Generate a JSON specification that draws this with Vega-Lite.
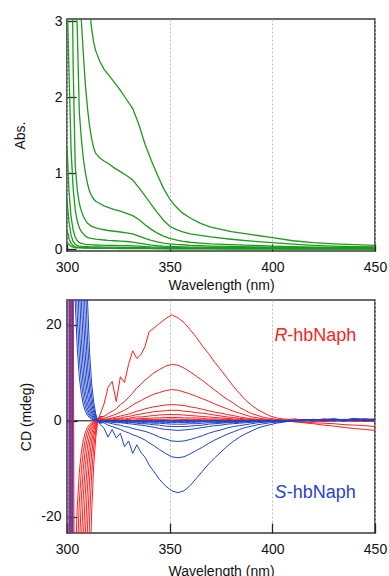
{
  "$schema": "https://vega.github.io/schema/vega-lite/v6.json",
  "background": "white",
  "padding": {"left": 12, "top": 13, "right": 5, "bottom": 0},
  "spacing": 6,
  "config": {
    "font": "Liberation Sans",
    "view": {"stroke": "#3a3a3a", "strokeWidth": 1.6},
    "axis": {"labelFont": "Liberation Sans", "titleFont": "Liberation Sans", "labelFontSize": 14, "titleFontSize": 14, "titleFontWeight": "normal", "labelColor": "#111", "titleColor": "#111", "tickColor": "#222", "tickWidth": 1.3, "domain": false}
  },
  "datasets": {
    "abs": [
      {"x":300,"g1":8,"g2":8,"g3":7,"g4":8,"g5":3.4,"g6":1.35,"g7":0.65,"g8":0.26,"g9":0.1},
      {"x":301,"g1":8,"g2":7.5,"g3":6,"g4":6.5,"g5":2.3,"g6":0.75,"g7":0.35,"g8":0.14,"g9":0.06},
      {"x":302,"g1":7.5,"g2":7,"g3":5,"g4":5,"g5":1.3,"g6":0.42,"g7":0.18,"g8":0.075,"g9":0.035},
      {"x":303,"g1":7,"g2":6,"g3":4.2,"g4":2.4,"g5":0.8,"g6":0.25,"g7":0.1,"g8":0.045,"g9":0.025},
      {"x":304,"g1":6.5,"g2":5,"g3":3.5,"g4":1.1,"g5":0.52,"g6":0.16,"g7":0.065,"g8":0.03,"g9":0.02},
      {"x":305,"g1":6,"g2":4.3,"g3":2.9,"g4":0.78,"g5":0.37,"g6":0.11,"g7":0.045,"g8":0.025,"g9":0.018},
      {"x":306,"g1":5.5,"g2":3.6,"g3":1.8,"g4":0.6,"g5":0.28,"g6":0.085,"g7":0.038,"g8":0.022,"g9":0.016},
      {"x":307,"g1":5,"g2":3.0,"g3":1.45,"g4":0.5,"g5":0.23,"g6":0.075,"g7":0.035,"g8":0.02,"g9":0.015},
      {"x":308,"g1":4.5,"g2":2.55,"g3":1.18,"g4":0.43,"g5":0.2,"g6":0.068,"g7":0.033,"g8":0.019,"g9":0.014},
      {"x":309,"g1":4.0,"g2":2.15,"g3":1.0,"g4":0.38,"g5":0.17,"g6":0.063,"g7":0.032,"g8":0.018,"g9":0.013},
      {"x":310,"g1":3.5,"g2":1.85,"g3":0.86,"g4":0.34,"g5":0.155,"g6":0.06,"g7":0.031,"g8":0.018,"g9":0.013},
      {"x":311,"g1":3.15,"g2":1.62,"g3":0.76,"g4":0.32,"g5":0.145,"g6":0.058,"g7":0.03,"g8":0.017,"g9":0.012},
      {"x":312,"g1":2.9,"g2":1.45,"g3":0.7,"g4":0.3,"g5":0.14,"g6":0.056,"g7":0.03,"g8":0.017,"g9":0.012},
      {"x":313,"g1":2.72,"g2":1.33,"g3":0.66,"g4":0.29,"g5":0.135,"g6":0.055,"g7":0.029,"g8":0.016,"g9":0.011},
      {"x":314,"g1":2.61,"g2":1.26,"g3":0.63,"g4":0.28,"g5":0.13,"g6":0.054,"g7":0.029,"g8":0.016,"g9":0.011},
      {"x":316,"g1":2.47,"g2":1.2,"g3":0.6,"g4":0.265,"g5":0.125,"g6":0.052,"g7":0.028,"g8":0.015,"g9":0.01},
      {"x":318,"g1":2.37,"g2":1.16,"g3":0.57,"g4":0.255,"g5":0.12,"g6":0.05,"g7":0.027,"g8":0.015,"g9":0.01},
      {"x":320,"g1":2.3,"g2":1.13,"g3":0.55,"g4":0.245,"g5":0.115,"g6":0.049,"g7":0.026,"g8":0.014,"g9":0.009},
      {"x":323,"g1":2.2,"g2":1.07,"g3":0.52,"g4":0.235,"g5":0.11,"g6":0.048,"g7":0.025,"g8":0.014,"g9":0.009},
      {"x":326,"g1":2.09,"g2":1.02,"g3":0.5,"g4":0.225,"g5":0.105,"g6":0.046,"g7":0.024,"g8":0.013,"g9":0.008},
      {"x":329,"g1":1.97,"g2":0.97,"g3":0.47,"g4":0.215,"g5":0.1,"g6":0.045,"g7":0.023,"g8":0.013,"g9":0.008},
      {"x":332,"g1":1.85,"g2":0.91,"g3":0.44,"g4":0.2,"g5":0.092,"g6":0.042,"g7":0.022,"g8":0.012,"g9":0.007},
      {"x":335,"g1":1.64,"g2":0.81,"g3":0.39,"g4":0.17,"g5":0.08,"g6":0.038,"g7":0.02,"g8":0.011,"g9":0.007},
      {"x":338,"g1":1.38,"g2":0.7,"g3":0.32,"g4":0.14,"g5":0.065,"g6":0.033,"g7":0.018,"g8":0.01,"g9":0.006},
      {"x":341,"g1":1.17,"g2":0.59,"g3":0.26,"g4":0.115,"g5":0.052,"g6":0.028,"g7":0.016,"g8":0.009,"g9":0.006},
      {"x":344,"g1":0.98,"g2":0.48,"g3":0.21,"g4":0.095,"g5":0.044,"g6":0.025,"g7":0.014,"g8":0.008,"g9":0.005},
      {"x":347,"g1":0.8,"g2":0.38,"g3":0.17,"g4":0.08,"g5":0.038,"g6":0.022,"g7":0.013,"g8":0.008,"g9":0.005},
      {"x":350,"g1":0.66,"g2":0.3,"g3":0.14,"g4":0.07,"g5":0.034,"g6":0.02,"g7":0.012,"g8":0.007,"g9":0.004},
      {"x":353,"g1":0.56,"g2":0.26,"g3":0.12,"g4":0.062,"g5":0.031,"g6":0.019,"g7":0.011,"g8":0.007,"g9":0.004},
      {"x":356,"g1":0.48,"g2":0.23,"g3":0.105,"g4":0.057,"g5":0.029,"g6":0.018,"g7":0.011,"g8":0.006,"g9":0.004},
      {"x":360,"g1":0.41,"g2":0.2,"g3":0.09,"g4":0.05,"g5":0.027,"g6":0.017,"g7":0.01,"g8":0.006,"g9":0.003},
      {"x":365,"g1":0.34,"g2":0.18,"g3":0.08,"g4":0.045,"g5":0.025,"g6":0.016,"g7":0.009,"g8":0.005,"g9":0.003},
      {"x":370,"g1":0.29,"g2":0.16,"g3":0.07,"g4":0.04,"g5":0.023,"g6":0.015,"g7":0.009,"g8":0.005,"g9":0.003},
      {"x":380,"g1":0.23,"g2":0.13,"g3":0.06,"g4":0.035,"g5":0.02,"g6":0.013,"g7":0.008,"g8":0.004,"g9":0.002},
      {"x":390,"g1":0.19,"g2":0.105,"g3":0.05,"g4":0.03,"g5":0.018,"g6":0.012,"g7":0.007,"g8":0.004,"g9":0.002},
      {"x":400,"g1":0.15,"g2":0.085,"g3":0.04,"g4":0.026,"g5":0.016,"g6":0.011,"g7":0.007,"g8":0.004,"g9":0.002},
      {"x":410,"g1":0.11,"g2":0.065,"g3":0.033,"g4":0.022,"g5":0.014,"g6":0.01,"g7":0.006,"g8":0.003,"g9":0.001},
      {"x":420,"g1":0.085,"g2":0.05,"g3":0.027,"g4":0.02,"g5":0.012,"g6":0.009,"g7":0.006,"g8":0.003,"g9":0.001},
      {"x":430,"g1":0.07,"g2":0.04,"g3":0.023,"g4":0.017,"g5":0.011,"g6":0.008,"g7":0.005,"g8":0.003,"g9":0.001},
      {"x":440,"g1":0.058,"g2":0.033,"g3":0.02,"g4":0.015,"g5":0.01,"g6":0.008,"g7":0.005,"g8":0.003,"g9":0.001},
      {"x":450,"g1":0.05,"g2":0.028,"g3":0.018,"g4":0.014,"g5":0.01,"g6":0.007,"g7":0.005,"g8":0.003,"g9":0.001}
    ],
    "cd": [
      {"x":300,"r1":-999,"r2":-999,"r3":-999,"r4":-999,"r5":-999,"r6":-999,"r7":-999,"r8":-999,"r9":-999,"s1":999,"s2":999,"s3":999,"s4":999,"s5":999,"s6":999,"s7":999,"s8":-40,"s9":999},
      {"x":301,"r1":-999,"r2":40,"r3":-999,"r4":-999,"r5":-999,"r6":-999,"r7":-999,"r8":-999,"r9":-999,"s1":999,"s2":999,"s3":999,"s4":999,"s5":999,"s6":999,"s7":999,"s8":999,"s9":999},
      {"x":301.5,"r1":-999,"r2":-999,"r3":-999,"r4":-999,"r5":-999,"r6":-999,"r7":-999,"r8":-999,"r9":-999,"s1":999,"s2":-40,"s3":999,"s4":999,"s5":999,"s6":999,"s7":999,"s8":999,"s9":999},
      {"x":302,"r1":-999,"r2":-999,"r3":-999,"r4":40,"r5":-999,"r6":-999,"r7":-999,"r8":-999,"r9":-999,"s1":999,"s2":999,"s3":999,"s4":999,"s5":999,"s6":999,"s7":999,"s8":999,"s9":999},
      {"x":302.5,"r1":-999,"r2":-999,"r3":-999,"r4":-999,"r5":-999,"r6":-999,"r7":-999,"r8":-999,"r9":-999,"s1":999,"s2":999,"s3":999,"s4":999,"s5":-40,"s6":999,"s7":999,"s8":999,"s9":999},
      {"x":303,"r1":-999,"r2":-999,"r3":-999,"r4":-999,"r5":-999,"r6":40,"r7":-999,"r8":-999,"r9":-999,"s1":899,"s2":601,"s3":405,"s4":275,"s5":187,"s6":128,"s7":87.7,"s8":60.1,"s9":41.2},
      {"x":304,"r1":-1331,"r2":-782,"r3":-475,"r4":-294,"r5":-184,"r6":-116,"r7":-73.3,"r8":-46.5,"r9":-29.6,"s1":545,"s2":364,"s3":246,"s4":167,"s5":114,"s6":77.7,"s7":53.2,"s8":36.4,"s9":25.0},
      {"x":305,"r1":-805,"r2":-473,"r3":-287,"r4":-178,"r5":-111,"r6":-70,"r7":-44.3,"r8":-28.1,"r9":-17.9,"s1":330,"s2":220,"s3":149,"s4":101,"s5":68.7,"s6":47.0,"s7":32.2,"s8":22.0,"s9":15.1},
      {"x":306,"r1":-486,"r2":-286,"r3":-173,"r4":-107,"r5":-67.1,"r6":-42.3,"r7":-26.8,"r8":-17.0,"r9":-10.8,"s1":199,"s2":133,"s3":89.7,"s4":61.0,"s5":41.5,"s6":28.4,"s7":19.4,"s8":13.3,"s9":9.13},
      {"x":307,"r1":-293,"r2":-172,"r3":-104,"r4":-64.6,"r5":-40.4,"r6":-25.5,"r7":-16.1,"r8":-10.2,"r9":-6.5,"s1":120,"s2":80.1,"s3":54.0,"s4":36.7,"s5":25.0,"s6":17.1,"s7":11.7,"s8":8.01,"s9":5.5},
      {"x":308,"r1":-175,"r2":-103,"r3":-62.5,"r4":-38.7,"r5":-24.2,"r6":-15.3,"r7":-9.65,"r8":-6.13,"r9":-3.89,"s1":71.8,"s2":48.0,"s3":32.4,"s4":22.0,"s5":15.0,"s6":10.2,"s7":7.0,"s8":4.8,"s9":3.29},
      {"x":309,"r1":-104,"r2":-61.3,"r3":-37.2,"r4":-23.0,"r5":-14.4,"r6":-9.08,"r7":-5.74,"r8":-3.65,"r9":-2.32,"s1":42.7,"s2":28.5,"s3":19.3,"s4":13.1,"s5":8.91,"s6":6.09,"s7":4.17,"s8":2.86,"s9":1.96},
      {"x":310,"r1":-61.1,"r2":-35.9,"r3":-21.8,"r4":-13.5,"r5":-8.43,"r6":-5.31,"r7":-3.36,"r8":-2.13,"r9":-1.36,"s1":25.0,"s2":16.7,"s3":11.3,"s4":7.66,"s5":5.21,"s6":3.57,"s7":2.44,"s8":1.67,"s9":1.15},
      {"x":311,"r1":-34.9,"r2":-20.5,"r3":-12.4,"r4":-7.7,"r5":-4.82,"r6":-3.04,"r7":-1.92,"r8":-1.22,"r9":-0.78,"s1":14.3,"s2":9.55,"s3":6.44,"s4":4.38,"s5":2.98,"s6":2.04,"s7":1.39,"s8":0.96,"s9":0.66},
      {"x":312,"r1":-19.0,"r2":-11.2,"r3":-6.78,"r4":-4.19,"r5":-2.62,"r6":-1.65,"r7":-1.05,"r8":-0.66,"r9":-0.42,"s1":7.78,"s2":5.2,"s3":3.51,"s4":2.38,"s5":1.62,"s6":1.11,"s7":0.76,"s8":0.52,"s9":0.36},
      {"x":313,"r1":-9.39,"r2":-5.51,"r3":-3.35,"r4":-2.07,"r5":-1.3,"r6":-0.82,"r7":-0.52,"r8":-0.33,"r9":-0.21,"s1":3.84,"s2":2.57,"s3":1.73,"s4":1.18,"s5":0.8,"s6":0.55,"s7":0.37,"s8":0.26,"s9":0.18},
      {"x":314,"r1":-3.55,"r2":-2.08,"r3":-1.26,"r4":-0.78,"r5":-0.49,"r6":-0.31,"r7":-0.2,"r8":-0.12,"r9":-0.08,"s1":1.45,"s2":0.97,"s3":0.65,"s4":0.44,"s5":0.3,"s6":0.21,"s7":0.14,"s8":0.1,"s9":0.07},
      {"x":315,"r1":0.1,"r2":-0.1,"r3":0.2,"r4":0.0,"r5":0.1,"r6":-0.1,"r7":0.0,"r8":0.1,"r9":0.0,"s1":0.1,"s2":-0.1,"s3":0.0,"s4":0.1,"s5":-0.1,"s6":0.0,"s7":0.1,"s8":0.0,"s9":-0.1},
      {"x":316,"r1":1.2,"r2":0.9,"r3":0.7,"r4":0.5,"r5":0.4,"r6":0.3,"r7":0.2,"r8":0.2,"r9":0.1,"s1":-0.7,"s2":-0.5,"s3":-0.4,"s4":-0.3,"s5":-0.2,"s6":-0.2,"s7":-0.1,"s8":-0.1,"s9":0.0},
      {"x":318,"r1":3.5,"r2":0.9,"r3":0.5,"r4":0.3,"r5":0.2,"r6":0.1,"r7":0.1,"r8":0.0,"r9":-0.1,"s1":-1.5,"s2":-0.4,"s3":-0.2,"s4":-0.1,"s5":-0.1,"s6":0.0,"s7":0.0,"s8":0.0,"s9":0.1},
      {"x":320,"r1":7.0,"r2":1.5,"r3":0.8,"r4":0.4,"r5":0.3,"r6":0.2,"r7":0.1,"r8":0.1,"r9":0.0,"s1":-3.4,"s2":-0.9,"s3":-0.4,"s4":-0.2,"s5":-0.1,"s6":-0.1,"s7":0.0,"s8":0.0,"s9":0.0},
      {"x":322,"r1":8.2,"r2":2.0,"r3":1.1,"r4":0.6,"r5":0.4,"r6":0.2,"r7":0.1,"r8":0.0,"r9":-0.1,"s1":-1.8,"s2":-1.2,"s3":-0.6,"s4":-0.3,"s5":-0.2,"s6":-0.1,"s7":-0.1,"s8":0.0,"s9":0.1},
      {"x":324,"r1":4.0,"r2":2.5,"r3":1.4,"r4":0.8,"r5":0.5,"r6":0.3,"r7":0.2,"r8":0.1,"r9":0.0,"s1":-3.6,"s2":-1.5,"s3":-0.8,"s4":-0.4,"s5":-0.2,"s6":-0.1,"s7":0.0,"s8":-0.1,"s9":0.0},
      {"x":326,"r1":9.2,"r2":3.4,"r3":1.8,"r4":1.0,"r5":0.6,"r6":0.4,"r7":0.2,"r8":0.1,"r9":0.1,"s1":-2.6,"s2":-1.8,"s3":-0.9,"s4":-0.4,"s5":-0.3,"s6":-0.2,"s7":-0.1,"s8":0.0,"s9":0.0},
      {"x":328,"r1":8.0,"r2":4.0,"r3":2.2,"r4":1.2,"r5":0.8,"r6":0.4,"r7":0.2,"r8":0.1,"r9":0.0,"s1":-5.4,"s2":-2.2,"s3":-1.2,"s4":-0.5,"s5":-0.3,"s6":-0.2,"s7":-0.1,"s8":-0.1,"s9":0.1},
      {"x":330,"r1":11.8,"r2":4.9,"r3":2.7,"r4":1.4,"r5":0.9,"r6":0.5,"r7":0.3,"r8":0.2,"r9":0.0,"s1":-4.2,"s2":-2.5,"s3":-1.3,"s4":-0.6,"s5":-0.4,"s6":-0.2,"s7":-0.1,"s8":0.0,"s9":0.0},
      {"x":332,"r1":14.6,"r2":5.8,"r3":3.3,"r4":1.7,"r5":1.1,"r6":0.7,"r7":0.4,"r8":0.1,"r9":0.1,"s1":-6.8,"s2":-2.9,"s3":-1.6,"s4":-0.7,"s5":-0.4,"s6":-0.3,"s7":-0.2,"s8":-0.1,"s9":0.0},
      {"x":334,"r1":13.0,"r2":6.9,"r3":3.8,"r4":2.0,"r5":1.3,"r6":0.8,"r7":0.4,"r8":0.2,"r9":0.0,"s1":-5.0,"s2":-3.2,"s3":-1.8,"s4":-0.8,"s5":-0.5,"s6":-0.3,"s7":-0.1,"s8":-0.1,"s9":0.1},
      {"x":336,"r1":13.8,"r2":7.6,"r3":4.2,"r4":2.2,"r5":1.4,"r6":0.8,"r7":0.5,"r8":0.2,"r9":0.1,"s1":-6.6,"s2":-3.6,"s3":-2.0,"s4":-0.9,"s5":-0.6,"s6":-0.3,"s7":-0.2,"s8":0.0,"s9":0.0},
      {"x":338,"r1":15.5,"r2":8.5,"r3":4.7,"r4":2.5,"r5":1.6,"r6":0.9,"r7":0.5,"r8":0.3,"r9":0.0,"s1":-7.6,"s2":-4.0,"s3":-2.2,"s4":-1.0,"s5":-0.6,"s6":-0.4,"s7":-0.2,"s8":-0.1,"s9":0.0},
      {"x":340,"r1":18.6,"r2":9.2,"r3":5.1,"r4":2.7,"r5":1.7,"r6":1.0,"r7":0.5,"r8":0.2,"r9":0.1,"s1":-9.2,"s2":-4.6,"s3":-2.5,"s4":-1.2,"s5":-0.7,"s6":-0.4,"s7":-0.2,"s8":-0.1,"s9":0.1},
      {"x":342,"r1":19.2,"r2":9.9,"r3":5.5,"r4":2.9,"r5":1.9,"r6":1.1,"r7":0.6,"r8":0.3,"r9":0.1,"s1":-10.4,"s2":-5.1,"s3":-2.8,"s4":-1.3,"s5":-0.8,"s6":-0.5,"s7":-0.3,"s8":-0.2,"s9":0.0},
      {"x":345,"r1":20.3,"r2":10.7,"r3":5.9,"r4":3.1,"r5":2.0,"r6":1.2,"r7":0.6,"r8":0.3,"r9":0.0,"s1":-12.2,"s2":-6.0,"s3":-3.4,"s4":-1.6,"s5":-0.9,"s6":-0.5,"s7":-0.3,"s8":-0.1,"s9":0.0},
      {"x":348,"r1":21.3,"r2":11.4,"r3":6.3,"r4":3.3,"r5":2.1,"r6":1.3,"r7":0.7,"r8":0.3,"r9":0.1,"s1":-13.6,"s2":-6.8,"s3":-3.8,"s4":-1.8,"s5":-1.1,"s6":-0.6,"s7":-0.3,"s8":-0.2,"s9":0.1},
      {"x":351,"r1":22.1,"r2":11.8,"r3":6.5,"r4":3.4,"r5":2.2,"r6":1.3,"r7":0.7,"r8":0.4,"r9":0.1,"s1":-14.6,"s2":-7.5,"s3":-4.2,"s4":-1.9,"s5":-1.2,"s6":-0.7,"s7":-0.4,"s8":-0.2,"s9":0.0},
      {"x":354,"r1":21.5,"r2":11.6,"r3":6.4,"r4":3.3,"r5":2.2,"r6":1.3,"r7":0.7,"r8":0.3,"r9":0.0,"s1":-15.0,"s2":-7.7,"s3":-4.3,"s4":-2.0,"s5":-1.2,"s6":-0.7,"s7":-0.3,"s8":-0.1,"s9":0.0},
      {"x":357,"r1":20.5,"r2":11.0,"r3":6.0,"r4":3.2,"r5":2.0,"r6":1.2,"r7":0.6,"r8":0.3,"r9":0.1,"s1":-14.6,"s2":-7.5,"s3":-4.2,"s4":-1.9,"s5":-1.2,"s6":-0.7,"s7":-0.4,"s8":-0.2,"s9":0.1},
      {"x":360,"r1":19.0,"r2":10.2,"r3":5.6,"r4":2.9,"r5":1.9,"r6":1.1,"r7":0.6,"r8":0.3,"r9":0.0,"s1":-13.5,"s2":-6.9,"s3":-3.9,"s4":-1.8,"s5":-1.1,"s6":-0.6,"s7":-0.3,"s8":-0.1,"s9":0.0},
      {"x":363,"r1":17.4,"r2":9.3,"r3":5.1,"r4":2.7,"r5":1.7,"r6":1.0,"r7":0.6,"r8":0.3,"r9":0.1,"s1":-12.0,"s2":-6.2,"s3":-3.5,"s4":-1.6,"s5":-1.0,"s6":-0.6,"s7":-0.3,"s8":-0.2,"s9":0.0},
      {"x":366,"r1":15.6,"r2":8.4,"r3":4.6,"r4":2.4,"r5":1.6,"r6":0.9,"r7":0.5,"r8":0.2,"r9":0.0,"s1":-10.5,"s2":-5.5,"s3":-3.1,"s4":-1.4,"s5":-0.9,"s6":-0.5,"s7":-0.2,"s8":-0.1,"s9":0.1},
      {"x":369,"r1":14.0,"r2":7.4,"r3":4.1,"r4":2.1,"r5":1.4,"r6":0.8,"r7":0.4,"r8":0.2,"r9":0.1,"s1":-9.0,"s2":-4.7,"s3":-2.6,"s4":-1.2,"s5":-0.7,"s6":-0.4,"s7":-0.2,"s8":-0.1,"s9":0.0},
      {"x":372,"r1":12.2,"r2":6.4,"r3":3.5,"r4":1.8,"r5":1.2,"r6":0.7,"r7":0.4,"r8":0.2,"r9":0.0,"s1":-7.7,"s2":-4.0,"s3":-2.2,"s4":-1.0,"s5":-0.6,"s6":-0.4,"s7":-0.2,"s8":0.0,"s9":0.1},
      {"x":375,"r1":10.6,"r2":5.4,"r3":3.0,"r4":1.6,"r5":1.0,"r6":0.6,"r7":0.3,"r8":0.1,"r9":0.0,"s1":-6.5,"s2":-3.4,"s3":-1.9,"s4":-0.9,"s5":-0.5,"s6":-0.3,"s7":-0.1,"s8":-0.1,"s9":0.0},
      {"x":378,"r1":8.9,"r2":4.5,"r3":2.5,"r4":1.3,"r5":0.8,"r6":0.5,"r7":0.3,"r8":0.2,"r9":0.1,"s1":-5.3,"s2":-2.8,"s3":-1.5,"s4":-0.7,"s5":-0.4,"s6":-0.3,"s7":-0.2,"s8":0.0,"s9":0.0},
      {"x":381,"r1":7.2,"r2":3.7,"r3":2.0,"r4":1.1,"r5":0.7,"r6":0.4,"r7":0.2,"r8":0.1,"r9":0.0,"s1":-4.3,"s2":-2.3,"s3":-1.2,"s4":-0.6,"s5":-0.4,"s6":-0.2,"s7":-0.1,"s8":-0.1,"s9":0.1},
      {"x":384,"r1":5.7,"r2":2.8,"r3":1.6,"r4":0.8,"r5":0.5,"r6":0.3,"r7":0.2,"r8":0.1,"r9":0.0,"s1":-3.4,"s2":-1.8,"s3":-1.0,"s4":-0.5,"s5":-0.3,"s6":-0.2,"s7":-0.1,"s8":0.0,"s9":0.0},
      {"x":387,"r1":4.3,"r2":2.1,"r3":1.2,"r4":0.6,"r5":0.4,"r6":0.2,"r7":0.1,"r8":0.0,"r9":0.1,"s1":-2.7,"s2":-1.4,"s3":-0.8,"s4":-0.4,"s5":-0.2,"s6":-0.1,"s7":0.0,"s8":0.0,"s9":0.1},
      {"x":390,"r1":3.2,"r2":1.5,"r3":0.8,"r4":0.4,"r5":0.3,"r6":0.2,"r7":0.1,"r8":0.1,"r9":0.0,"s1":-2.1,"s2":-1.1,"s3":-0.6,"s4":-0.3,"s5":-0.2,"s6":-0.1,"s7":-0.1,"s8":0.1,"s9":0.0},
      {"x":393,"r1":2.3,"r2":1.1,"r3":0.6,"r4":0.3,"r5":0.2,"r6":0.1,"r7":0.1,"r8":0.0,"r9":-0.1,"s1":-1.5,"s2":-0.8,"s3":-0.4,"s4":-0.2,"s5":-0.1,"s6":-0.1,"s7":0.0,"s8":0.0,"s9":0.1},
      {"x":396,"r1":1.6,"r2":0.7,"r3":0.4,"r4":0.2,"r5":0.1,"r6":0.1,"r7":0.0,"r8":0.1,"r9":0.0,"s1":-1.1,"s2":-0.6,"s3":-0.3,"s4":-0.2,"s5":-0.1,"s6":0.0,"s7":0.0,"s8":0.0,"s9":0.0},
      {"x":399,"r1":1.0,"r2":0.5,"r3":0.2,"r4":0.2,"r5":0.1,"r6":0.0,"r7":0.1,"r8":0.0,"r9":0.0,"s1":-0.8,"s2":-0.4,"s3":-0.2,"s4":-0.1,"s5":0.0,"s6":0.0,"s7":0.1,"s8":0.1,"s9":0.0},
      {"x":402,"r1":0.6,"r2":0.3,"r3":0.1,"r4":0.1,"r5":0.0,"r6":0.1,"r7":0.0,"r8":0.1,"r9":0.1,"s1":-0.5,"s2":-0.3,"s3":-0.1,"s4":-0.1,"s5":-0.1,"s6":0.0,"s7":0.0,"s8":0.0,"s9":0.1},
      {"x":405,"r1":0.4,"r2":0.2,"r3":0.0,"r4":0.1,"r5":0.0,"r6":0.0,"r7":0.1,"r8":0.0,"r9":-0.1,"s1":-0.3,"s2":-0.2,"s3":-0.1,"s4":0.0,"s5":0.0,"s6":0.1,"s7":0.0,"s8":0.1,"s9":0.0},
      {"x":408,"r1":0.3,"r2":0.2,"r3":-0.1,"r4":0.0,"r5":-0.1,"r6":0.1,"r7":0.0,"r8":0.1,"r9":0.0,"s1":-0.1,"s2":-0.1,"s3":0.0,"s4":0.0,"s5":0.1,"s6":0.0,"s7":0.1,"s8":0.0,"s9":0.1},
      {"x":411,"r1":0.4,"r2":0.1,"r3":-0.2,"r4":0.1,"r5":-0.2,"r6":0.2,"r7":0.1,"r8":0.0,"r9":0.1,"s1":0.0,"s2":0.0,"s3":0.1,"s4":0.1,"s5":0.0,"s6":0.1,"s7":0.0,"s8":0.1,"s9":0.0},
      {"x":415,"r1":0.1,"r2":0.2,"r3":-0.4,"r4":0.3,"r5":-0.3,"r6":0.1,"r7":0.0,"r8":0.1,"r9":0.0,"s1":0.2,"s2":0.1,"s3":0.0,"s4":0.2,"s5":0.1,"s6":0.0,"s7":0.1,"s8":0.0,"s9":0.1},
      {"x":420,"r1":0.3,"r2":0.0,"r3":-0.6,"r4":0.1,"r5":-0.4,"r6":0.3,"r7":0.2,"r8":-0.1,"r9":0.1,"s1":0.1,"s2":0.3,"s3":0.2,"s4":0.0,"s5":0.2,"s6":0.1,"s7":0.0,"s8":0.2,"s9":0.0},
      {"x":425,"r1":-0.2,"r2":0.3,"r3":-0.9,"r4":0.4,"r5":-0.5,"r6":0.1,"r7":0.0,"r8":0.1,"r9":-0.1,"s1":0.3,"s2":0.2,"s3":0.1,"s4":0.3,"s5":0.0,"s6":0.2,"s7":0.2,"s8":0.1,"s9":0.1},
      {"x":430,"r1":0.2,"r2":0.1,"r3":-1.1,"r4":0.2,"r5":-0.6,"r6":0.2,"r7":0.1,"r8":0.0,"r9":0.0,"s1":0.4,"s2":0.4,"s3":0.3,"s4":0.1,"s5":0.2,"s6":0.0,"s7":0.1,"s8":0.0,"s9":0.2},
      {"x":435,"r1":-0.1,"r2":0.2,"r3":-1.4,"r4":0.3,"r5":-0.8,"r6":0.0,"r7":-0.1,"r8":0.1,"r9":0.2,"s1":0.2,"s2":0.1,"s3":0.2,"s4":0.3,"s5":0.1,"s6":0.2,"s7":0.0,"s8":0.1,"s9":0.0},
      {"x":440,"r1":0.3,"r2":-0.1,"r3":-1.6,"r4":0.1,"r5":-0.9,"r6":0.3,"r7":0.1,"r8":-0.1,"r9":0.0,"s1":0.5,"s2":0.3,"s3":0.4,"s4":0.2,"s5":0.3,"s6":0.1,"s7":0.2,"s8":0.2,"s9":0.1},
      {"x":445,"r1":0.0,"r2":0.2,"r3":-1.8,"r4":0.4,"r5":-1.0,"r6":0.1,"r7":-0.1,"r8":0.0,"r9":0.1,"s1":0.3,"s2":0.2,"s3":0.2,"s4":0.4,"s5":0.0,"s6":0.2,"s7":0.1,"s8":0.0,"s9":0.2},
      {"x":450,"r1":0.2,"r2":0.0,"r3":-2.0,"r4":0.2,"r5":-1.2,"r6":0.2,"r7":0.0,"r8":-0.1,"r9":-0.1,"s1":0.4,"s2":0.1,"s3":0.3,"s4":0.1,"s5":0.2,"s6":0.0,"s7":0.3,"s8":0.1,"s9":0.0}
    ],
    "annItalic": [
      {"t": "R", "x": 401, "y": 16.7, "k": "r1"},
      {"t": "S", "x": 401, "y": -16.2, "k": "s1"}
    ],
    "annPlain": [
      {"t": "-hbNaph", "x": 407.3, "y": 16.7, "k": "r1"},
      {"t": "-hbNaph", "x": 407.0, "y": -16.2, "k": "s1"}
    ],
    "zero": [{"y": 0}]
  },
  "vconcat": [
    {
      "width": 308,
      "height": 232,
      "data": {"name": "abs"},
      "transform": [{"fold": ["g1","g2","g3","g4","g5","g6","g7","g8","g9"], "as": ["k","v"]}],
      "mark": {"type": "line", "clip": true, "strokeWidth": 1.3, "color": "#1e9a1e"},
      "encoding": {
        "x": {"field": "x", "type": "quantitative",
              "scale": {"domain": [300, 450], "nice": false, "zero": false},
              "axis": {"title": "Wavelength (nm)", "values": [300,350,400,450], "labelFlush": false, "grid": true, "gridDash": [2,2], "gridColor": "#bdbdbd", "gridWidth": 1, "tickSize": -7, "labelPadding": 16, "titlePadding": 4}},
        "y": {"field": "v", "type": "quantitative",
              "scale": {"domain": [-0.025, 3.03], "nice": false, "zero": false},
              "axis": {"title": "Abs.", "values": [0,1,2,3], "grid": false, "tickSize": -9, "labelPadding": 14, "titleX": -43, "titleBaseline": "alphabetic"}},
        "detail": {"field": "k"}
      }
    },
    {
      "width": 308,
      "height": 233,
      "encoding": {
        "x": {"field": "x", "type": "quantitative",
              "scale": {"domain": [300, 450], "nice": false, "zero": false},
              "axis": {"title": "Wavelength (nm)", "values": [300,350,400,450], "labelFlush": false, "grid": true, "gridDash": [2,2], "gridColor": "#bdbdbd", "gridWidth": 1, "tickSize": -10, "labelPadding": 19, "titlePadding": 8}},
        "y": {"field": "v", "type": "quantitative",
              "scale": {"domain": [-23.4, 25.2], "nice": false, "zero": false},
              "axis": {"title": "CD (mdeg)", "values": [-20,0,20], "labelExpr": "'' + datum.value", "grid": false, "tickSize": -10, "labelPadding": 16, "titleX": -37, "titleBaseline": "alphabetic"}}
      },
      "layer": [
        {
          "data": {"name": "zero"},
          "mark": {"type": "rule", "color": "#000", "strokeWidth": 1},
          "encoding": {"y": {"field": "y", "type": "quantitative"}, "x": null}
        },
        {
          "data": {"name": "cd"},
          "transform": [{"fold": ["r1","r2","r3","r4","r5","r6","r7","r8","r9","s1","s2","s3","s4","s5","s6","s7","s8","s9"], "as": ["k","v"]}],
          "mark": {"type": "line", "clip": true, "strokeWidth": 1.0},
          "encoding": {
            "color": {"field": "k", "type": "nominal", "legend": null,
                      "scale": {"domain": ["r1","r2","r3","r4","r5","r6","r7","r8","r9","s1","s2","s3","s4","s5","s6","s7","s8","s9"],
                                "range": ["#ff1e1e","#ff1e1e","#ff1e1e","#ff1e1e","#ff1e1e","#ff1e1e","#ff1e1e","#ff1e1e","#ff1e1e","#1f43c9","#1f43c9","#1f43c9","#1f43c9","#1f43c9","#1f43c9","#1f43c9","#1f43c9","#1f43c9"]}}
          }
        },
        {
          "data": {"name": "annItalic"},
          "mark": {"type": "text", "fontStyle": "italic", "fontSize": 18, "font": "Liberation Sans", "align": "left", "baseline": "alphabetic"},
          "encoding": {"y": {"field": "y", "type": "quantitative"}, "text": {"field": "t"}, "color": {"field": "k", "type": "nominal", "legend": null}}
        },
        {
          "data": {"name": "annPlain"},
          "mark": {"type": "text", "fontSize": 18, "font": "Liberation Sans", "align": "left", "baseline": "alphabetic"},
          "encoding": {"y": {"field": "y", "type": "quantitative"}, "text": {"field": "t"}, "color": {"field": "k", "type": "nominal", "legend": null}}
        }
      ]
    }
  ]
}
